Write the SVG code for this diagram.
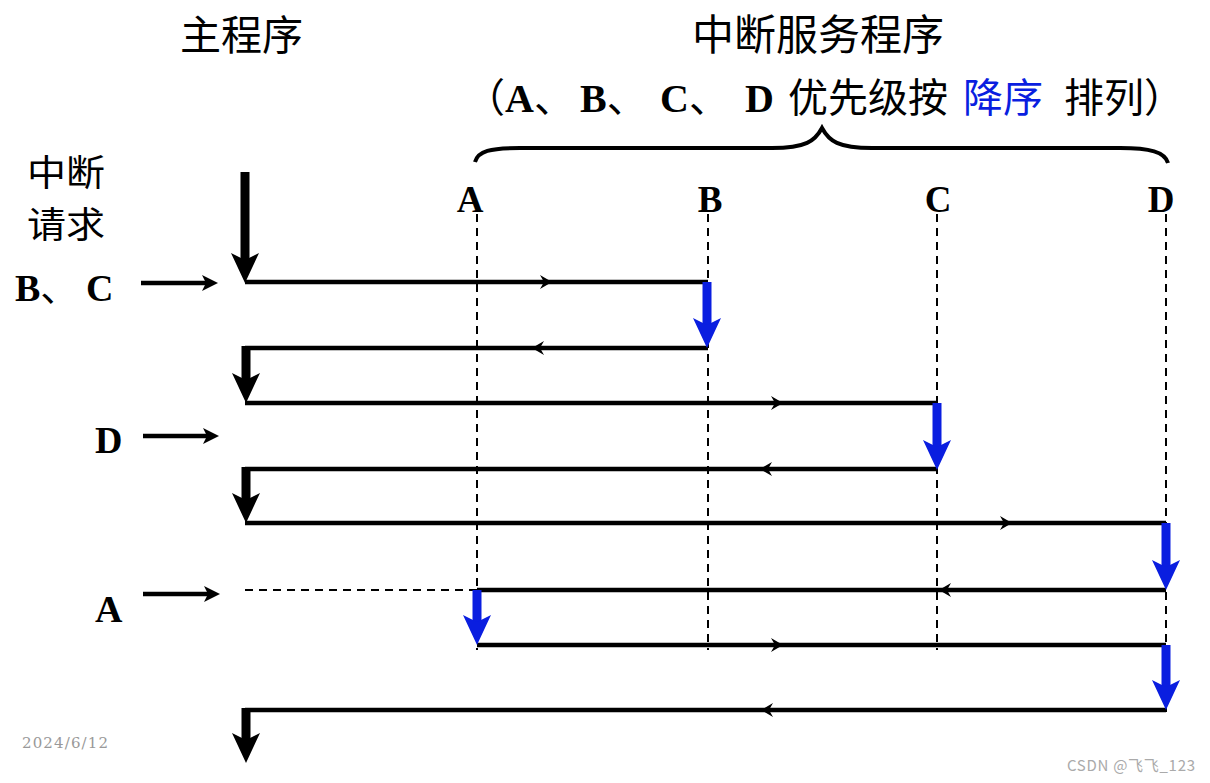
<svg xmlns="http://www.w3.org/2000/svg" xmlns:xlink="http://www.w3.org/1999/xlink" width="1210" height="783" viewBox="0 0 1210 783">
<style>
.cjk{font-family:"Noto Sans CJK SC","Noto Sans",sans-serif;fill:#000}
.lat{font-family:"Liberation Serif","Noto Sans CJK SC",serif;font-weight:bold;fill:#000}
.ln{stroke:#000;stroke-width:4.5;fill:none}
.dash{stroke:#000;stroke-width:2;stroke-dasharray:8,6;fill:none}
.shaftK{stroke:#000;stroke-width:9}
.shaftB{stroke:#0a1ee0;stroke-width:9}
.req{stroke:#000;stroke-width:4.5}
</style>
<defs>
<path id="hd" d="M0,0 L-14,-30 L0,-23 L14,-30 Z"/>
<path id="sh" d="M0,0 L-12,-7 L-8,0 L-12,7 Z"/>
<path id="rh" d="M0,0 L-16,-8 L-12,0 L-16,8 Z"/>
</defs>
<rect width="1210" height="783" fill="#fff"/>

<g id="titles">
<text class="cjk" x="180" y="50" font-size="41">主程序</text>
<text class="cjk" x="692" y="50" font-size="42">中断服务程序</text>
<text y="112" font-size="40">
<tspan class="cjk" x="465">（</tspan><tspan class="lat" x="505">A</tspan><tspan class="cjk">、</tspan><tspan class="lat" x="580">B</tspan><tspan class="cjk">、</tspan><tspan class="lat" x="660">C</tspan><tspan class="cjk">、</tspan><tspan class="lat" x="745">D</tspan><tspan class="cjk" x="788">优先级按</tspan><tspan class="cjk" x="963" style="fill:#0a1ee0">降序</tspan><tspan class="cjk" x="1064">排列）</tspan>
</text>
<path d="M475,162 C478,151 490,148 520,148 L772,148 C806,148 815,141 822,128 C829,141 838,148 872,148 L1120,148 C1150,148 1165,152 1168,163" stroke="#000" stroke-width="4" fill="none"/>
</g>

<g id="isr-labels">
<text class="lat" x="470" y="212" font-size="37" text-anchor="middle">A</text>
<text class="lat" x="710" y="212" font-size="37" text-anchor="middle">B</text>
<text class="lat" x="938" y="212" font-size="37" text-anchor="middle">C</text>
<text class="lat" x="1161" y="212" font-size="37" text-anchor="middle">D</text>
</g>

<g id="requests">
<text class="cjk" x="27" y="186" font-size="36" textLength="78" lengthAdjust="spacingAndGlyphs">中断</text>
<text class="cjk" x="27" y="238" font-size="36" textLength="78" lengthAdjust="spacingAndGlyphs">请求</text>
<text y="301" font-size="38"><tspan class="lat" x="15">B</tspan><tspan class="cjk">、</tspan><tspan class="lat" x="86">C</tspan></text>
<text class="lat" x="95" y="453" font-size="38">D</text>
<text class="lat" x="95" y="622" font-size="38">A</text>
</g>

<g id="connectors">
<line class="dash" x1="477" y1="214" x2="477" y2="650"/>
<line class="dash" x1="708" y1="214" x2="708" y2="650"/>
<line class="dash" x1="937" y1="214" x2="937" y2="650"/>
<line class="dash" x1="1166" y1="214" x2="1166" y2="712"/>
<line class="dash" x1="245" y1="590" x2="477" y2="590"/>

<line class="req" x1="141" y1="283" x2="206" y2="283"/>
<use xlink:href="#rh" transform="translate(218,283)"/>
<line class="req" x1="143" y1="436" x2="207" y2="436"/>
<use xlink:href="#rh" transform="translate(219,436)"/>
<line class="req" x1="143" y1="594" x2="208" y2="594"/>
<use xlink:href="#rh" transform="translate(220,594)"/>

<line class="ln" x1="245" y1="282" x2="708" y2="282"/>
<line class="ln" x1="708" y1="348" x2="245" y2="348"/>
<line class="ln" x1="245" y1="403" x2="937" y2="403"/>
<line class="ln" x1="937" y1="469" x2="245" y2="469"/>
<line class="ln" x1="245" y1="523" x2="1166" y2="523"/>
<line class="ln" x1="1166" y1="590" x2="477" y2="590"/>
<line class="ln" x1="477" y1="645" x2="1166" y2="645"/>
<line class="ln" x1="1166" y1="710" x2="245" y2="710"/>

<use xlink:href="#sh" transform="translate(552,282)"/>
<use xlink:href="#sh" transform="translate(532,348) rotate(180)"/>
<use xlink:href="#sh" transform="translate(783,403)"/>
<use xlink:href="#sh" transform="translate(760,469) rotate(180)"/>
<use xlink:href="#sh" transform="translate(1012,523)"/>
<use xlink:href="#sh" transform="translate(939,590) rotate(180)"/>
<use xlink:href="#sh" transform="translate(783,645)"/>
<use xlink:href="#sh" transform="translate(761,710) rotate(180)"/>

<line class="shaftK" x1="245" y1="172" x2="245" y2="262"/>
<use xlink:href="#hd" transform="translate(245,283)"/>
<line class="shaftK" x1="246" y1="346" x2="246" y2="382"/>
<use xlink:href="#hd" transform="translate(246,403)"/>
<line class="shaftK" x1="246" y1="467" x2="246" y2="502"/>
<use xlink:href="#hd" transform="translate(246,523)"/>
<line class="shaftK" x1="246" y1="708" x2="246" y2="742"/>
<use xlink:href="#hd" transform="translate(246,763)"/>

<g fill="#0a1ee0">
<line class="shaftB" x1="707" y1="282" x2="707" y2="327"/>
<use xlink:href="#hd" transform="translate(707,348)"/>
<line class="shaftB" x1="937" y1="403" x2="937" y2="448"/>
<use xlink:href="#hd" transform="translate(937,470)"/>
<line class="shaftB" x1="1166" y1="523" x2="1166" y2="569"/>
<use xlink:href="#hd" transform="translate(1166,590)"/>
<line class="shaftB" x1="477" y1="590" x2="477" y2="624"/>
<use xlink:href="#hd" transform="translate(477,645)"/>
<line class="shaftB" x1="1166" y1="645" x2="1166" y2="689"/>
<use xlink:href="#hd" transform="translate(1166,710)"/>
</g>
</g>

<g id="footer">
<text x="22" y="748" font-family="DejaVu Serif, serif" font-size="15" fill="#999" textLength="86">2024/6/12</text>
<text x="1067" y="771" font-family="Noto Sans CJK SC, Noto Sans, sans-serif" font-size="15" fill="#aaa" textLength="128">CSDN @飞飞_123</text>
</g>
</svg>
